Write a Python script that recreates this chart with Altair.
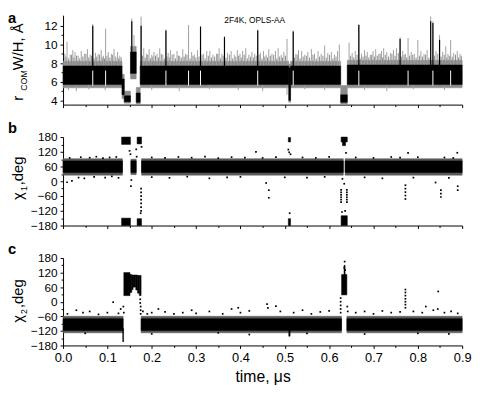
import altair as alt
import pandas as pd

FONT = "Liberation Sans"
W = 406
H_A, H_B, H_C = 91, 90, 89

# ---------------- tick values ----------------
x_ticks = [0.0, 0.05, 0.1, 0.15, 0.2, 0.25, 0.3, 0.35, 0.4, 0.45,
           0.5, 0.55, 0.6, 0.65, 0.7, 0.75, 0.8, 0.85, 0.9]
a_ticks = [4, 5, 6, 7, 8, 9, 10, 11, 12]
chi_ticks = [-180, -150, -120, -90, -60, -30, 0, 30, 60, 90, 120, 150, 180]

# ---------------- panel a : r_COM ----------------
a_band_t0 = [0.000, 0.133, 0.138, 0.152, 0.165, 0.174, 0.509, 0.513, 0.626, 0.641]
a_band_t1 = [0.133, 0.138, 0.152, 0.165, 0.174, 0.509, 0.513, 0.626, 0.641, 0.900]
a_core_lo = [5.70, 4.60, 3.85, 6.90, 3.80, 5.70, 4.00, 5.70, 3.80, 5.70]
a_core_hi = [7.70, 6.30, 4.50, 9.20, 4.80, 7.70, 7.50, 7.70, 4.60, 7.80]
a_frng_lo = [5.35, 4.20, 3.70, 6.30, 3.60, 5.35, 3.80, 5.35, 3.60, 5.35]
a_frng_hi = [8.20, 6.80, 5.00, 9.80, 5.40, 8.20, 7.90, 8.20, 5.60, 8.30]

a_gray_t = [0.004, 0.009, 0.016, 0.022, 0.027, 0.034, 0.041, 0.048, 0.055, 0.061,
            0.067, 0.073, 0.079, 0.086, 0.091, 0.096, 0.102, 0.109, 0.115, 0.123,
            0.128, 0.155, 0.160, 0.176, 0.182, 0.188, 0.194, 0.200, 0.205, 0.212,
            0.218, 0.225, 0.232, 0.237, 0.242, 0.250, 0.257, 0.263, 0.270, 0.276,
            0.283, 0.290, 0.296, 0.303, 0.310, 0.317, 0.324, 0.331, 0.338, 0.346,
            0.352, 0.358, 0.364, 0.371, 0.379, 0.386, 0.393, 0.399, 0.405, 0.412,
            0.419, 0.426, 0.432, 0.439, 0.445, 0.452, 0.458, 0.464, 0.471, 0.479,
            0.485, 0.492, 0.498, 0.505, 0.519, 0.525, 0.531, 0.538, 0.545, 0.552,
            0.560, 0.567, 0.575, 0.582, 0.590, 0.597, 0.605, 0.612, 0.619, 0.623,
            0.645, 0.652, 0.659, 0.667, 0.673, 0.680, 0.686, 0.693, 0.699, 0.705,
            0.712, 0.718, 0.723, 0.730, 0.738, 0.745, 0.752, 0.760, 0.766, 0.772,
            0.778, 0.785, 0.792, 0.800, 0.807, 0.814, 0.821, 0.829, 0.834, 0.841,
            0.849, 0.856, 0.863, 0.868, 0.874, 0.881, 0.889, 0.895]
a_gray_top = [9.0, 10.3, 8.9, 9.4, 9.2, 8.8, 9.3, 9.0, 9.5, 8.9,
              12.2, 9.1, 9.0, 9.4, 8.8, 11.7, 9.2, 9.0, 9.5, 9.2,
              8.8, 12.8, 11.0, 13.0, 9.6, 9.0, 9.5, 8.9, 9.2, 9.0,
              9.6, 8.9, 11.6, 9.1, 9.4, 9.0, 9.3, 8.8, 9.5, 9.0,
              12.1, 9.2, 8.9, 9.4, 12.0, 9.0, 9.3, 9.3, 8.9, 9.0,
              9.6, 9.0, 10.9, 9.1, 9.3, 8.9, 9.4, 9.0, 9.3, 9.6,
              8.9, 9.2, 9.0, 11.6, 9.1, 9.3, 8.9, 9.5, 9.0, 9.3,
              9.6, 8.9, 9.2, 10.6, 11.5, 9.0, 9.4, 9.3, 8.9, 9.2,
              9.5, 9.0, 9.3, 9.0, 9.9, 9.1, 9.2, 8.9, 9.3, 10.0,
              10.2, 9.1, 9.3, 12.2, 9.0, 9.4, 9.2, 8.9, 9.3, 9.5,
              9.0, 9.3, 9.6, 9.2, 9.1, 9.4, 9.6, 10.8, 9.3, 9.0,
              10.7, 9.2, 9.0, 10.5, 9.3, 9.0, 9.4, 13.0, 12.5, 9.3,
              11.0, 9.2, 9.8, 9.0, 10.5, 9.1, 9.3, 9.0]
# shorter spikes of the grey fringe, between the ones above
a_short_t = [0.0065, 0.0125, 0.0190, 0.0245, 0.0305, 0.0375, 0.0445, 0.0515, 0.0580, 0.0640,
             0.0700, 0.0760, 0.0825, 0.0885, 0.0935, 0.0990, 0.1055, 0.1120, 0.1190, 0.1255,
             0.1310, 0.1790, 0.1850, 0.1910, 0.1970, 0.2025, 0.2085, 0.2150, 0.2215, 0.2285,
             0.2345, 0.2395, 0.2460, 0.2535, 0.2600, 0.2665, 0.2730, 0.2795, 0.2865, 0.2930,
             0.2995, 0.3065, 0.3135, 0.3205, 0.3275, 0.3345, 0.3420, 0.3490, 0.3550, 0.3610,
             0.3675, 0.3750, 0.3825, 0.3895, 0.3960, 0.4020, 0.4085, 0.4155, 0.4225, 0.4290,
             0.4355, 0.4420, 0.4485, 0.4550, 0.4610, 0.4675, 0.4750, 0.4820, 0.4885, 0.4950,
             0.5015, 0.5220, 0.5280, 0.5345, 0.5415, 0.5485, 0.5560, 0.5635, 0.5710, 0.5785,
             0.5860, 0.5935, 0.6010, 0.6085, 0.6155, 0.6485, 0.6555, 0.6630, 0.6700, 0.6765,
             0.6830, 0.6895, 0.6960, 0.7020, 0.7085, 0.7150, 0.7205, 0.7265, 0.7340, 0.7415,
             0.7485, 0.7560, 0.7630, 0.7690, 0.7750, 0.7815, 0.7885, 0.7960, 0.8035, 0.8105,
             0.8175, 0.8250, 0.8375, 0.8450, 0.8525, 0.8595, 0.8655, 0.8710, 0.8775, 0.8850,
             0.8920, 0.8980]
a_short_top = [8.7, 8.5, 8.9, 8.6, 8.8, 8.5, 8.7, 9.0, 8.6, 8.8,
               8.5, 8.7, 8.9, 8.6, 8.5, 8.8, 8.6, 8.9, 8.7, 8.5,
               8.6, 8.8, 8.6, 8.9, 8.5, 8.7, 8.8, 8.6, 9.0, 8.5,
               8.7, 8.6, 8.9, 8.5, 8.8, 8.6, 8.7, 8.9, 8.5, 8.8,
               8.6, 8.7, 8.9, 8.5, 8.8, 8.6, 8.7, 9.0, 8.5, 8.8,
               8.6, 8.9, 8.5, 8.7, 8.8, 8.6, 8.9, 8.5, 8.7, 8.6,
               8.8, 8.9, 8.5, 8.7, 8.6, 8.8, 8.9, 8.5, 8.7, 8.6,
               8.8, 8.6, 8.9, 8.5, 8.7, 8.8, 8.6, 8.9, 8.5, 8.7,
               8.8, 8.6, 8.9, 8.5, 8.7, 8.8, 8.6, 8.9, 8.5, 8.7,
               8.8, 8.6, 8.9, 8.7, 8.8, 9.0, 8.6, 8.9, 8.7, 9.0,
               8.8, 9.1, 8.7, 8.9, 8.6, 8.8, 8.9, 8.6, 8.8, 8.7,
               8.9, 8.6, 8.8, 9.0, 8.7, 8.9, 8.6, 8.8, 8.7, 8.9,
               8.6, 8.8]
a_black_t = [0.067, 0.155, 0.176, 0.232, 0.310, 0.364, 0.439, 0.519, 0.667, 0.760, 0.829, 0.834, 0.849]
a_black_top = [12.0, 12.5, 12.0, 11.5, 11.9, 10.8, 11.5, 11.4, 12.1, 10.6, 12.5, 12.3, 10.5]
a_dip_t = [0.012, 0.030, 0.058, 0.095, 0.200, 0.262, 0.330, 0.395, 0.450, 0.505,
           0.545, 0.590, 0.680, 0.730, 0.790, 0.860]
a_dip_bot = [5.1, 5.0, 5.2, 5.1, 5.1, 5.0, 5.2, 5.1, 5.0, 4.6,
             5.2, 5.1, 5.1, 5.0, 5.2, 5.1]
a_gap_t = [0.067, 0.096, 0.232, 0.283, 0.310, 0.439, 0.519, 0.667, 0.778, 0.834, 0.874]

# ---------------- panel b : chi1 ----------------
b_core_t0 = [0.000, 0.153, 0.177, 0.636]
b_core_t1 = [0.134, 0.165, 0.632, 0.900]
b_core_lo = [36, 36, 36, 36]
b_core_hi = [83, 83, 83, 83]
b_frng_lo = [25, 27, 25, 25]
b_frng_hi = [92, 90, 92, 92]
b_blk_t0 = [0.132, 0.167, 0.508, 0.627, 0.630, 0.132, 0.167, 0.508, 0.627]
b_blk_t1 = [0.152, 0.177, 0.513, 0.641, 0.637, 0.152, 0.177, 0.513, 0.641]
b_blk_lo = [150, 152, 160, 160, 145, -180, -180, -180, -180]
b_blk_hi = [180, 180, 178, 180, 160, -150, -152, -152, -140]
b_dot_t = [0.009, 0.020, 0.035, 0.048, 0.015, 0.040, 0.060, 0.075, 0.090, 0.105, 0.120, 0.070, 0.095, 0.110, 0.125,
           0.150, 0.152, 0.153, 0.154, 0.165, 0.166, 0.176, 0.176, 0.176, 0.176, 0.176, 0.176, 0.176, 0.177, 0.175,
           0.200, 0.230, 0.260, 0.290, 0.320, 0.350, 0.380, 0.410, 0.200, 0.240, 0.280, 0.330, 0.370, 0.400,
           0.435, 0.458, 0.464, 0.464, 0.450, 0.480, 0.500,
           0.508, 0.510, 0.513, 0.511,
           0.540, 0.570, 0.600, 0.550, 0.590,
           0.627, 0.627, 0.627, 0.627, 0.627, 0.627, 0.640, 0.640, 0.640, 0.640, 0.640, 0.640, 0.638, 0.634, 0.629, 0.636, 0.630,
           0.660, 0.700, 0.740, 0.680, 0.720,
           0.772, 0.772, 0.772, 0.772, 0.772, 0.778, 0.760, 0.800, 0.790,
           0.840, 0.852, 0.852, 0.852, 0.860, 0.870, 0.889, 0.890, 0.890, 0.880]
b_dot_v = [-4, 2, 15, 12, 95, 98, 96, 100, 94, 97, 99, 18, 15, 20, 14,
           124, 110, -20, 5, 130, 100, -30, -45, -60, -75, -90, -105, -120, 140, -130,
           97, 95, 99, 96, 100, 94, 98, 96, 17, 14, 19, 12, 16, 18,
           120, -7, -36, -67, 95, 98, 16,
           129, 118, 110, -130,
           97, 95, 99, 15, 18,
           -35, -45, -55, -65, -75, -85, -35, -45, -55, -65, -75, -85, 116, -10, -125, -120, 10,
           97, 95, 99, 16, 12,
           -16, -30, -44, -58, -72, 116, 96, 98, 15,
           -5, -36, -50, -64, 97, 14, 116, -20, -36, 95]

# ---------------- panel c : chi2 ----------------
c_core_t0 = [0.000, 0.176, 0.640]
c_core_t1 = [0.1355, 0.628, 0.900]
c_core_lo = [-118, -118, -118]
c_core_hi = [-70, -70, -70]
c_frng_lo = [-128, -128, -128]
c_frng_hi = [-60, -60, -60]
c_blk_t0 = [0.1345, 0.137, 0.151, 0.155, 0.158, 0.164, 0.168, 0.172, 0.509, 0.628, 0.6335]
c_blk_t1 = [0.1365, 0.151, 0.155, 0.158, 0.164, 0.168, 0.172, 0.176, 0.512, 0.640, 0.6360]
c_blk_lo = [-165, 25, 38, 50, 60, 48, 35, 25, -142, 28, 110]
c_blk_hi = [-110, 120, 112, 110, 110, 110, 108, 108, -115, 112, 150]
c_dot_t = [0.010, 0.030, 0.045, 0.060, 0.080, 0.100, 0.113, 0.125, 0.130,
           0.136, 0.137, 0.174, 0.174, 0.175, 0.175, 0.175, 0.180, 0.190, 0.200, 0.215, 0.230, 0.250,
           0.270, 0.290, 0.300, 0.330, 0.360, 0.380, 0.395, 0.400, 0.420, 0.460, 0.462, 0.480, 0.490,
           0.520, 0.540, 0.560, 0.580, 0.600,
           0.626, 0.626, 0.626, 0.626, 0.626, 0.635, 0.634, 0.636, 0.641, 0.642,
           0.660, 0.680, 0.700, 0.720, 0.740, 0.760, 0.772, 0.772, 0.772, 0.772, 0.772, 0.772, 0.772,
           0.790, 0.810, 0.818, 0.835, 0.846, 0.845, 0.860, 0.875, 0.890,
           0.050, 0.200, 0.350, 0.420, 0.550, 0.680, 0.800, 0.870]
c_dot_v = [-50, -35, -45, -40, -52, -45, -2, -48, -30,
           -20, -45, 10, -5, -20, -35, -50, -40, -50, -45, -30, -42, -50,
           -45, -35, -48, -40, -50, -30, -25, -45, -38, -10, -25, -18, -40,
           -45, -35, -50, -42, -38,
           15, 0, -15, -30, -45, 165, 140, 130, -20, -40,
           -45, -40, -50, -38, -45, -42, 50, 38, 25, 12, 0, -12, -25,
           -40, -45, -20, -35, 42, -30, -45, -40, -48,
           -130, -132, -128, -135, -130, -133, -130, -132]

# ---------------- texts ----------------
panel_letters = ["a", "b", "c"]
title_a = ["r", "COM", "W/H, Å"]
title_b = ["χ", "1", ",deg"]
title_c = ["χ", "2", ",deg"]
note_a = "2F4K, OPLS-AA"
x_title = "time, μs"

# ---------------- helpers ----------------
xs = alt.Scale(domain=[0, 0.9], nice=False, zero=False)


def x_axis(show_labels):
    kw = dict(values=x_ticks, grid=False, domainColor="black", tickColor="black",
              tickSize={"condition": {"test": "round(datum.value*100) % 10 == 0", "value": 3}, "value": 2},
              labelOverlap=False, labelFlush=False)
    if show_labels:
        return alt.Axis(title=x_title, labels=True,
                        labelExpr="round(datum.value*100) % 10 == 0 ? format(datum.value, '.1f') : ''",
                        labelFont=FONT, labelFontSize=13, labelColor="black", labelPadding=3,
                        titleFont=FONT, titleFontSize=16, titleFontWeight="normal", titleColor="black",
                        titlePadding=5, **kw)
    return alt.Axis(title=None, labels=False, **kw)


def y_axis(vals, mod):
    return alt.Axis(values=vals, title=None, grid=False, domainColor="black", tickColor="black",
                    tickSize={"condition": {"test": f"datum.value % {mod} == 0", "value": 3}, "value": 2},
                    labelExpr=f"datum.value % {mod} == 0 ? datum.label : ''",
                    labelFont=FONT, labelFontSize=12, labelColor="black", labelPadding=3,
                    labelOverlap=False)


def build_layers(ys, yax, xax, rect_sets, rule_sets, dots, texts):
    layers = []
    for df, color in rect_sets:
        layers.append(alt.Chart(df).mark_rect(color=color, stroke=color, strokeWidth=0.5).encode(
            x=alt.X("t0:Q", scale=xs, axis=xax), x2="t1:Q",
            y=alt.Y("lo:Q", scale=ys, axis=yax), y2="hi:Q"))
    for df, color, sw in rule_sets:
        layers.append(alt.Chart(df).mark_rule(color=color, strokeWidth=sw).encode(
            x=alt.X("t:Q", scale=xs, axis=xax),
            y=alt.Y("lo:Q", scale=ys, axis=yax), y2="hi:Q"))
    if dots is not None:
        layers.append(alt.Chart(dots).mark_square(color="black", size=3, opacity=1).encode(
            x=alt.X("t:Q", scale=xs, axis=xax),
            y=alt.Y("v:Q", scale=ys, axis=yax)))
    for txt, px, py, size, weight, angle, align, baseline in texts:
        layers.append(alt.Chart(pd.DataFrame({"s": [txt]})).mark_text(
            font=FONT, fontSize=size, fontWeight=weight, angle=angle, align=align,
            baseline=baseline, color="black").encode(
            text="s:N", x=alt.value(px), y=alt.value(py)))
    return layers


def rect_df(t0, t1, lo, hi):
    return pd.DataFrame({"t0": t0, "t1": t1, "lo": lo, "hi": hi})


# panel a
ys_a = alt.Scale(domain=[3.55, 13.15], nice=False, zero=False)
ya = y_axis(a_ticks, 2)
xa = x_axis(False)
a_fringe = rect_df(a_band_t0, a_band_t1, a_frng_lo, a_frng_hi)
a_rules_gray = pd.DataFrame({"t": a_gray_t, "lo": [7.5] * len(a_gray_t), "hi": a_gray_top})
a_rules_short = pd.DataFrame({"t": a_short_t, "lo": [7.5] * len(a_short_t), "hi": a_short_top})
a_rules_dip = pd.DataFrame({"t": a_dip_t, "lo": a_dip_bot, "hi": [6.0] * len(a_dip_t)})
a_core = rect_df(a_band_t0, a_band_t1, a_core_lo, a_core_hi)
a_rules_black = pd.DataFrame({"t": a_black_t, "lo": [7.4] * len(a_black_t), "hi": a_black_top})
a_gaps = pd.DataFrame({"t": a_gap_t, "lo": [5.6] * len(a_gap_t), "hi": [7.2] * len(a_gap_t)})

pa_layers = (
    build_layers(ys_a, ya, xa, [(a_fringe, "#8c8c8c")],
                 [(a_rules_gray, "#a0a0a0", 1), (a_rules_short, "#8a8a8a", 1),
                  (a_rules_dip, "#a0a0a0", 1)], None, [])
    + build_layers(ys_a, ya, xa, [(a_core, "black")],
                   [(a_rules_black, "black", 1.2), (a_gaps, "white", 1)], None,
                   [(panel_letters[0], -56, -4, 15, "bold", 0, "left", "top"),
                    (title_a[0], -41, 87, 15, "normal", 270, "left", "alphabetic"),
                    (title_a[1], -37, 77, 9, "normal", 270, "left", "alphabetic"),
                    (title_a[2], -41, 56, 15, "normal", 270, "left", "alphabetic"),
                    (note_a, 195, 5, 8.5, "normal", 0, "center", "middle")])
)
pa = alt.layer(*pa_layers).properties(width=W, height=H_A)

# panel b
ys_b = alt.Scale(domain=[-180, 180], nice=False, zero=False)
pb = alt.layer(*build_layers(
    ys_b, y_axis(chi_ticks, 60), x_axis(False),
    [(rect_df(b_core_t0, b_core_t1, b_frng_lo, b_frng_hi), "#5a5a5a"),
     (rect_df(b_core_t0, b_core_t1, b_core_lo, b_core_hi), "black"),
     (rect_df(b_blk_t0, b_blk_t1, b_blk_lo, b_blk_hi), "black")],
    [], pd.DataFrame({"t": b_dot_t, "v": b_dot_v}),
    [(panel_letters[1], -56, -16, 15, "bold", 0, "left", "top"),
     (title_b[0], -41, 64, 15, "normal", 270, "left", "alphabetic"),
     (title_b[1], -37, 55, 9, "normal", 270, "left", "alphabetic"),
     (title_b[2], -41, 49, 15, "normal", 270, "left", "alphabetic")])).properties(width=W, height=H_B)

# panel c
ys_c = alt.Scale(domain=[-180, 180], nice=False, zero=False)
pc = alt.layer(*build_layers(
    ys_c, y_axis(chi_ticks, 60), x_axis(True),
    [(rect_df(c_core_t0, c_core_t1, c_frng_lo, c_frng_hi), "#5a5a5a"),
     (rect_df(c_core_t0, c_core_t1, c_core_lo, c_core_hi), "black"),
     (rect_df(c_blk_t0, c_blk_t1, c_blk_lo, c_blk_hi), "black")],
    [], pd.DataFrame({"t": c_dot_t, "v": c_dot_v}),
    [(panel_letters[2], -56, -16, 15, "bold", 0, "left", "top"),
     (title_c[0], -41, 66, 15, "normal", 270, "left", "alphabetic"),
     (title_c[1], -37, 57, 9, "normal", 270, "left", "alphabetic"),
     (title_c[2], -41, 51, 15, "normal", 270, "left", "alphabetic")])).properties(width=W, height=H_C)

chart = alt.vconcat(pa, pb, pc, spacing=33, bounds="flush").properties(
    padding={"left": 0, "top": 0, "right": 0, "bottom": 0}
).configure_view(strokeWidth=0).configure_axis(domainWidth=1, tickWidth=1)

chart.save("out.html", embed_options={"renderer": "svg", "actions": False})
